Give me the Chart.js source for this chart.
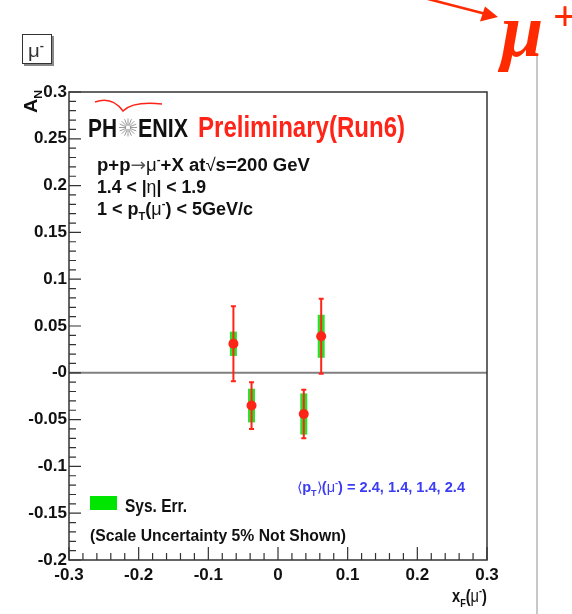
<!DOCTYPE html>
<html>
<head>
<meta charset="utf-8">
<script src="https://cdn.jsdelivr.net/npm/chart.js@4/dist/chart.umd.min.js"></script>
<style>
  html, body { margin: 0; padding: 0; background: #fff; }
  canvas { display: block; }
</style>
</head>
<body>
<canvas id="anChart" width="572" height="614"></canvas>
<script>
// A_N vs x_F for mu-, 4 points
var xF = [-0.064, -0.038, 0.037, 0.062];
var aN = [0.031, -0.035, -0.044, 0.039];
var statErr = [0.040, 0.025, 0.026, 0.040];
var sysErr = [0.013, 0.018, 0.022, 0.023];
var meanPt = [2.4, 1.4, 1.4, 2.4];

var xTickValues = [-0.3, -0.2, -0.1, 0, 0.1, 0.2, 0.3];
var xTickLabels = ['-0.3', '-0.2', '-0.1', '0', '0.1', '0.2', '0.3'];
var yTickValues = [-0.2, -0.15, -0.1, -0.05, 0, 0.05, 0.1, 0.15, 0.2, 0.25, 0.3];
var yTickLabels = ['-0.2', '-0.15', '-0.1', '-0.05', '-0', '0.05', '0.1', '0.15', '0.2', '0.25', '0.3'];

var RED = '#ff2418';
var FONT = "'Liberation Sans', Arial, sans-serif";

// draws a line of text made of pieces (sub/sup), squeezed to a target width
function richText(ctx, x, y, size, color, segs, targetW, weight) {
  weight = weight || 'bold';
  ctx.save();
  ctx.fillStyle = color;
  ctx.textBaseline = 'alphabetic';
  ctx.textAlign = 'left';
  var total = 0;
  segs.forEach(function (s) {
    var sz = (s.sub || s.sup) ? size * 0.62 : size;
    ctx.font = (s.w || weight) + ' ' + sz + 'px ' + (s.f || FONT);
    s._w = ctx.measureText(s.t).width;
    total += s._w;
  });
  var sx = targetW ? targetW / total : 1;
  ctx.translate(x, y);
  ctx.scale(sx, 1);
  var cx = 0;
  segs.forEach(function (s) {
    var sz = (s.sub || s.sup) ? size * 0.62 : size;
    ctx.font = (s.w || weight) + ' ' + sz + 'px ' + (s.f || FONT);
    var dy = s.sup ? -size * 0.42 : (s.sub ? size * 0.3 : 0);
    if (s.dy) dy += s.dy;
    if (s.c) ctx.fillStyle = s.c;
    ctx.fillText(s.t, cx, dy);
    ctx.fillStyle = color;
    cx += s._w;
  });
  ctx.restore();
}

var errorBars = {
  id: 'errorBars',
  beforeDatasetsDraw: function (chart) {
    var ctx = chart.ctx, xs = chart.scales.x, ys = chart.scales.y, a = chart.chartArea;
    ctx.save();
    // zero line
    ctx.strokeStyle = '#808080';
    ctx.lineWidth = 2;
    ctx.beginPath();
    ctx.moveTo(a.left, ys.getPixelForValue(0));
    ctx.lineTo(a.right, ys.getPixelForValue(0));
    ctx.stroke();
    xF.forEach(function (v, i) {
      var px = xs.getPixelForValue(v);
      var t = ys.getPixelForValue(aN[i] + sysErr[i]);
      var b = ys.getPixelForValue(aN[i] - sysErr[i]);
      ctx.fillStyle = '#2ee02e';
      ctx.fillRect(px - 3.5, t, 7, b - t);
      var st = ys.getPixelForValue(aN[i] + statErr[i]);
      var sb = ys.getPixelForValue(aN[i] - statErr[i]);
      ctx.strokeStyle = RED;
      ctx.lineWidth = 2;
      ctx.beginPath();
      ctx.moveTo(px, st); ctx.lineTo(px, sb);
      ctx.moveTo(px - 2.5, st); ctx.lineTo(px + 2.5, st);
      ctx.moveTo(px - 2.5, sb); ctx.lineTo(px + 2.5, sb);
      ctx.stroke();
    });
    ctx.restore();
  },
  afterDraw: function (chart) {
    var ctx = chart.ctx, xs = chart.scales.x, ys = chart.scales.y, a = chart.chartArea;
    ctx.save();
    // frame
    ctx.strokeStyle = '#333';
    ctx.lineWidth = 1.5;
    ctx.strokeRect(a.left, a.top, a.right - a.left, a.bottom - a.top);
    // inward ticks
    ctx.lineWidth = 1.2;
    ctx.beginPath();
    for (var k = -20; k <= 30; k++) {
      var py = ys.getPixelForValue(k / 100);
      var len = (k % 5 === 0) ? 12 : 7;
      ctx.moveTo(a.left, py); ctx.lineTo(a.left + len, py);
    }
    for (var m = -15; m <= 15; m++) {
      var px = xs.getPixelForValue(m / 50);
      var l2 = (m % 5 === 0) ? 13 : 7;
      ctx.moveTo(px, a.bottom); ctx.lineTo(px, a.bottom - l2);
    }
    ctx.stroke();

    // axis titles
    ctx.save();
    ctx.translate(37, 113);
    ctx.rotate(-Math.PI / 2);
    richText(ctx, 0, 0, 18, '#111', [{ t: 'A' }, { t: 'N', sub: true }], 23);
    ctx.restore();
    richText(ctx, 452, 602, 18, '#111',
      [{ t: 'x' }, { t: 'F', sub: true }, { t: '(' }, { t: 'μ', w: 'normal' }, { t: '-', sup: true }, { t: ')' }], 35);

    // mu- box
    ctx.fillStyle = '#888';
    ctx.fillRect(24, 64, 30, 2);
    ctx.fillRect(52, 36, 2, 30);
    ctx.fillStyle = '#fff';
    ctx.fillRect(22, 34, 30, 30);
    ctx.strokeStyle = '#333';
    ctx.lineWidth = 1;
    ctx.strokeRect(22.5, 34.5, 29, 29);
    richText(ctx, 28, 57, 18, '#333', [{ t: 'μ', w: 'normal' }, { t: '-', sup: true }], 16);

    // PHENIX logo
    ctx.strokeStyle = RED;
    ctx.lineWidth = 1.5;
    ctx.beginPath();
    ctx.moveTo(95, 102);
    ctx.quadraticCurveTo(112, 96, 123, 111);
    ctx.quadraticCurveTo(133, 101, 162, 104);
    ctx.stroke();
    richText(ctx, 88, 137, 26, '#111', [{ t: 'PH' }], 29);
    ctx.strokeStyle = '#9a9a9a';
    ctx.lineWidth = 1;
    ctx.beginPath();
    for (var r = 0; r < 16; r++) {
      var ang = r * Math.PI / 8;
      ctx.moveTo(128 + Math.cos(ang) * 2, 127.5 + Math.sin(ang) * 2);
      ctx.lineTo(128 + Math.cos(ang) * 9, 127.5 + Math.sin(ang) * 9);
    }
    ctx.stroke();
    richText(ctx, 138, 137, 26, '#111', [{ t: 'ENIX' }], 50);
    richText(ctx, 198, 137, 29, RED, [{ t: 'Preliminary(Run6)' }], 207);

    // process text
    richText(ctx, 97, 171, 18, '#111',
      [{ t: 'p+p' }, { t: '→', w: 'normal', f: "'DejaVu Sans', sans-serif", c: '#555' }, { t: 'μ', w: 'normal' }, { t: '-', sup: true }, { t: '+X at' }, { t: '√', w: 'normal' }, { t: 's=200 GeV' }], 213);
    richText(ctx, 97, 193, 18, '#111',
      [{ t: '1.4 < |' }, { t: 'η', w: 'normal' }, { t: '| < 1.9' }], 109);
    richText(ctx, 97, 215, 18, '#111',
      [{ t: '1 < p' }, { t: 'T', sub: true }, { t: '(' }, { t: 'μ', w: 'normal' }, { t: '-', sup: true }, { t: ') < 5GeV/c' }], 156);

    // mean pT text
    richText(ctx, 297, 492, 14, '#3c3cf5',
      [{ t: '⟨', w: 'normal' }, { t: 'p' }, { t: 'T', sub: true }, { t: '⟩', w: 'normal' }, { t: '(' }, { t: 'μ', w: 'normal' }, { t: '-', sup: true },
       { t: ') = ' + meanPt.map(function (v) { return v.toFixed(1); }).join(', ') }], 168);

    // legend
    ctx.fillStyle = '#00e600';
    ctx.fillRect(90, 496, 27, 14);
    richText(ctx, 125, 512, 18, '#111', [{ t: 'Sys. Err.' }], 62);
    richText(ctx, 90, 541, 17, '#111', [{ t: '(Scale Uncertainty 5% Not Shown)' }], 256);

    // slide decorations: arrow, mu+, divider
    ctx.strokeStyle = '#c8c8c8';
    ctx.lineWidth = 2;
    ctx.beginPath();
    ctx.moveTo(537, 55); ctx.lineTo(537, 614);
    ctx.stroke();
    ctx.strokeStyle = '#ff2a00';
    ctx.fillStyle = '#ff2a00';
    ctx.lineWidth = 2.5;
    ctx.beginPath();
    ctx.moveTo(428, -1); ctx.lineTo(484, 13.5);
    ctx.stroke();
    ctx.beginPath();
    ctx.moveTo(498, 17); ctx.lineTo(480, 21.5); ctx.lineTo(485, 6.5);
    ctx.closePath();
    ctx.fill();
    ctx.font = 'bold italic 76px "Liberation Serif", "DejaVu Serif", serif';
    ctx.textAlign = 'left';
    ctx.fillText('μ', 501, 56);
    ctx.font = 'bold 42px "Liberation Serif", "DejaVu Serif", serif';
    ctx.fillText('+', 553, 30);
    ctx.restore();
  }
};

var ctx = document.getElementById('anChart').getContext('2d');
var myChart = new Chart(ctx, {
  type: 'scatter',
  data: {
    datasets: [{
      data: xF.map(function (v, i) { return { x: v, y: aN[i] }; }),
      backgroundColor: RED,
      borderWidth: 0,
      pointRadius: 5,
      pointHoverRadius: 5
    }]
  },
  options: {
    responsive: false,
    animation: false,
    layout: { padding: { left: 0, top: 92, right: 85, bottom: 0 } },
    plugins: { legend: { display: false }, tooltip: { enabled: false } },
    scales: {
      x: {
        type: 'linear', min: -0.3, max: 0.3,
        grid: { display: false, drawTicks: false },
        border: { display: false },
        afterBuildTicks: function (s) { s.ticks = xTickValues.map(function (v) { return { value: v }; }); },
        afterFit: function (s) { s.height = 54; },
        ticks: {
          autoSkip: false, maxRotation: 0, padding: 5, color: '#111',
          font: { family: FONT, weight: 'bold', size: 17 },
          callback: function (v, i) { return xTickLabels[i]; }
        }
      },
      y: {
        type: 'linear', min: -0.2, max: 0.3,
        grid: { display: false, drawTicks: false },
        border: { display: false },
        afterBuildTicks: function (s) { s.ticks = yTickValues.map(function (v) { return { value: v }; }); },
        afterFit: function (s) { s.width = 69; },
        ticks: {
          autoSkip: false, padding: 2, color: '#111',
          font: { family: FONT, weight: 'bold', size: 17 },
          callback: function (v, i) { return yTickLabels[i]; }
        }
      }
    }
  },
  plugins: [errorBars]
});
</script>
</body>
</html>
